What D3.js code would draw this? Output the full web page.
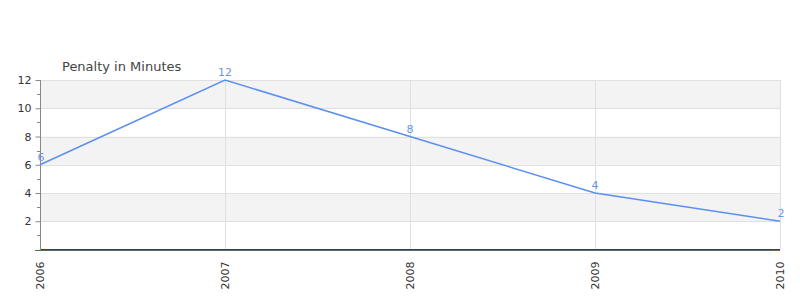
<!DOCTYPE html>
<html><head><meta charset="utf-8">
<script src="https://cdn.jsdelivr.net/npm/d3@7"></script>
<style>body{margin:0;background:#fff;}svg{display:block;font-family:"DejaVu Sans",sans-serif;}</style>
</head><body>
<svg id="c" width="800" height="300"></svg>
<script>
const years = ["2006","2007","2008","2009","2010"];
const penalty = [6, 12, 8, 4, 2];
const yTicks = [2, 4, 6, 8, 10, 12];
const title = "Penalty in Minutes";

const svg = d3.select("#c");
const m = {l:40, r:780, t:80, b:249.5};
const x = d3.scalePoint().domain(years).range([m.l, m.r]);
const y = d3.scaleLinear().domain([0, 12]).range([m.b, m.t]);

// bands
const bandEdges = [12,10,8,6,4,2,0];
for (let i = 0; i < bandEdges.length-1; i++) {
  if (i % 2 === 0) {
    svg.append("rect").attr("x", m.l).attr("width", m.r - m.l)
      .attr("y", y(bandEdges[i])).attr("height", y(bandEdges[i+1]) - y(bandEdges[i]))
      .attr("fill", "#f3f3f3");
  }
}
// horizontal grid
svg.append("g").selectAll("line").data(yTicks).join("line")
  .attr("x1", m.l).attr("x2", m.r)
  .attr("y1", d => Math.round(y(d)) + 0.5).attr("y2", d => Math.round(y(d)) + 0.5)
  .attr("stroke", "#e0e0e0");
// vertical grid
svg.append("g").selectAll("line").data(years.slice(1)).join("line")
  .attr("x1", d => Math.round(x(d)) + 0.5).attr("x2", d => Math.round(x(d)) + 0.5)
  .attr("y1", m.t).attr("y2", m.b)
  .attr("stroke", "#e0e0e0");

// y axis
const yAxis = svg.append("g").attr("transform", `translate(${m.l + 0.5},0)`)
  .call(d3.axisLeft(y).tickValues(yTicks).tickSize(5).tickPadding(4).tickFormat(d3.format("d")));
yAxis.select(".domain").attr("stroke", "#888").attr("d", `M0,${m.t}V${m.b + 1}`);
yAxis.selectAll(".tick line").attr("stroke", "#888");
yAxis.selectAll(".tick text").attr("fill", "#333").style("font-size", "11px").style("font-family", "DejaVu Sans");
// minor ticks
svg.append("g").selectAll("line").data([1,3,5,7,9,11]).join("line")
  .attr("x1", m.l - 3).attr("x2", m.l)
  .attr("y1", d => Math.round(y(d)) + 0.5).attr("y2", d => Math.round(y(d)) + 0.5)
  .attr("stroke", "#888");

// x axis
const xAxis = svg.append("g").attr("transform", `translate(0,${m.b + 1})`)
  .call(d3.axisBottom(x).tickSize(0).tickPadding(6));
xAxis.select(".domain").attr("stroke", "#666").attr("d", `M${m.l - 5},0H${m.r}`);
xAxis.selectAll(".tick text").attr("fill", "#333").style("font-size", "11px").style("font-family", "DejaVu Sans")
  .attr("transform", "rotate(-90)").attr("text-anchor", "end").attr("dx", "-11px").attr("dy", "0.35em").attr("y", 0).attr("x", 0);
// red zero line
svg.append("line").attr("x1", m.l + 1).attr("x2", m.r)
  .attr("y1", y(0)).attr("y2", y(0)).attr("stroke", "#cc0000").attr("stroke-width", 1);

// line
const line = d3.line().x((d, i) => x(years[i])).y(d => y(d));
svg.append("path").datum(penalty).attr("d", line)
  .attr("fill", "none").attr("stroke", "#5b8ff0").attr("stroke-width", 1.5);

// data labels
svg.append("g").selectAll("text").data(penalty).join("text")
  .attr("x", (d, i) => x(years[i]) + (i === 0 ? 1 : (i === penalty.length - 1 ? 1 : 0)))
  .attr("y", d => y(d) - 4)
  .attr("text-anchor", "middle").attr("fill", "#6b97e0").style("font-size", "11px")
  .text(d => d);

// title
svg.append("text").attr("x", 62).attr("y", 71).attr("fill", "#444").style("font-size", "13px").text(title);
</script>
</body></html>
